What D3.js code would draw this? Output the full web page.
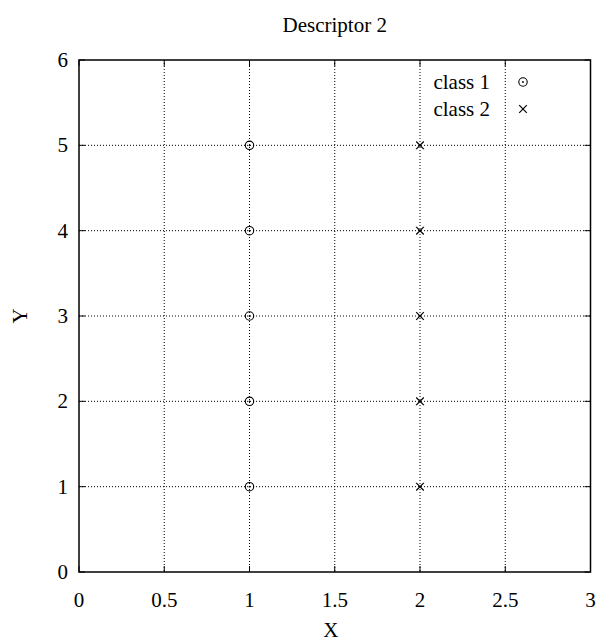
<!DOCTYPE html>
<html>
  <head>
    <title>Descriptor 2</title>
    <script src="https://d3js.org/d3.v7.min.js" charset="utf-8"></script>
    <style>
      body { margin: 0; background: white; }
      text { font-family: "Liberation Serif", "Times New Roman", serif; fill: #000; }
    </style>
  </head>
  <body>
    <script>
      // data
      var class1X = [1, 1, 1, 1, 1];
      var class1Y = [1, 2, 3, 4, 5];
      var class2X = [2, 2, 2, 2, 2];
      var class2Y = [1, 2, 3, 4, 5];
      var xTicks = [0, 0.5, 1, 1.5, 2, 2.5, 3];
      var yTicks = [0, 1, 2, 3, 4, 5, 6];
      var legendLabels = ["class 1", "class 2"];

      var width = 596, height = 643;
      // plot box (note: "top" is a reserved window global, so use pTop etc.)
      var pLeft = 79, pRight = 590.5, pTop = 60, pBottom = 572;
      var fs = 21;

      var svg = d3.select("body").append("svg")
        .attr("width", width)
        .attr("height", height);

      var x = d3.scaleLinear().domain([0, 3]).range([pLeft, pRight]);
      var y = d3.scaleLinear().domain([0, 6]).range([pBottom, pTop]);

      // grid
      var grid = svg.append("g")
        .attr("stroke", "#000")
        .attr("stroke-width", 1)
        .attr("stroke-dasharray", "1,2");
      grid.selectAll("line.gx")
        .data(xTicks.slice(1, -1))
        .enter().append("line")
        .attr("class", "gx")
        .attr("x1", d => x(d)).attr("x2", d => x(d))
        .attr("y1", pTop).attr("y2", pBottom);
      grid.selectAll("line.gy")
        .data(yTicks.slice(1, -1))
        .enter().append("line")
        .attr("class", "gy")
        .attr("x1", pLeft).attr("x2", pRight)
        .attr("y1", d => y(d)).attr("y2", d => y(d));

      // inward ticks on all four sides
      var tl = 6;
      var ticks = svg.append("g").attr("stroke", "#000").attr("stroke-width", 1);
      xTicks.forEach(function(t) {
        ticks.append("line").attr("x1", x(t)).attr("x2", x(t)).attr("y1", pBottom).attr("y2", pBottom - tl);
        ticks.append("line").attr("x1", x(t)).attr("x2", x(t)).attr("y1", pTop).attr("y2", pTop + tl);
      });
      yTicks.forEach(function(t) {
        ticks.append("line").attr("x1", pLeft).attr("x2", pLeft + tl).attr("y1", y(t)).attr("y2", y(t));
        ticks.append("line").attr("x1", pRight).attr("x2", pRight - tl).attr("y1", y(t)).attr("y2", y(t));
      });

      // frame
      svg.append("rect")
        .attr("x", pLeft).attr("y", pTop)
        .attr("width", pRight - pLeft).attr("height", pBottom - pTop)
        .attr("fill", "none").attr("stroke", "#000").attr("stroke-width", 1.5);

      // tick labels
      svg.selectAll("text.xt")
        .data(xTicks)
        .enter().append("text")
        .attr("class", "xt")
        .attr("x", d => x(d))
        .attr("y", 607)
        .attr("text-anchor", "middle")
        .attr("font-size", fs)
        .text(d => d);
      svg.selectAll("text.yt")
        .data(yTicks)
        .enter().append("text")
        .attr("class", "yt")
        .attr("x", 68)
        .attr("y", d => y(d))
        .attr("dy", "0.33em")
        .attr("text-anchor", "end")
        .attr("font-size", fs)
        .text(d => d);

      // titles
      svg.append("text").attr("x", (pLeft + pRight) / 2).attr("y", 32)
        .attr("text-anchor", "middle").attr("font-size", fs).text("Descriptor 2");
      svg.append("text").attr("x", (pLeft + pRight) / 2 - 4).attr("y", 637)
        .attr("text-anchor", "middle").attr("font-size", fs).text("X");
      svg.append("text")
        .attr("transform", "translate(27," + ((pTop + pBottom) / 2) + ") rotate(-90)")
        .attr("text-anchor", "middle").attr("font-size", fs).text("Y");

      // markers
      function circleMark(g, cx, cy) {
        g.append("circle").attr("cx", cx).attr("cy", cy).attr("r", 4.2)
          .attr("fill", "none").attr("stroke", "#000").attr("stroke-width", 1.1);
        g.append("circle").attr("cx", cx).attr("cy", cy).attr("r", 0.9).attr("fill", "#000");
      }
      function crossMark(g, cx, cy) {
        var s = 3.8;
        g.append("path")
          .attr("d", "M" + (cx - s) + "," + (cy - s) + "L" + (cx + s) + "," + (cy + s) +
                     "M" + (cx - s) + "," + (cy + s) + "L" + (cx + s) + "," + (cy - s))
          .attr("stroke", "#000").attr("stroke-width", 1.2);
      }

      var pts = svg.append("g");
      class1X.forEach(function(v, i) { circleMark(pts, x(v), y(class1Y[i])); });
      class2X.forEach(function(v, i) { crossMark(pts, x(v), y(class2Y[i])); });

      // legend
      var lg = svg.append("g");
      legendLabels.forEach(function(l, i) {
        var ly = 82 + i * 27;
        lg.append("text").attr("x", 490).attr("y", ly).attr("dy", "0.33em")
          .attr("text-anchor", "end").attr("font-size", fs).text(l);
        if (i === 0) circleMark(lg, 523, ly); else crossMark(lg, 523, ly);
      });
    </script>
  </body>
</html>
